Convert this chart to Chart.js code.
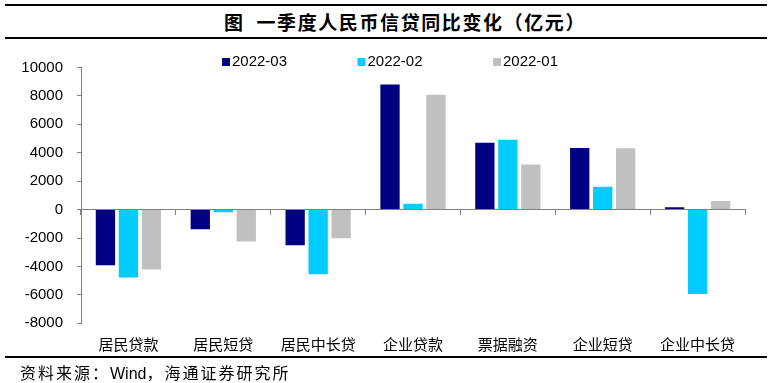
<!DOCTYPE html>
<html><head><meta charset="utf-8">
<script src="https://cdn.jsdelivr.net/npm/chart.js@4/dist/chart.umd.min.js"></script>
<style>
html,body{margin:0;padding:0;background:#fff;width:769px;height:383px;overflow:hidden;}
#wrap{position:relative;width:769px;height:383px;}
#c{position:absolute;left:0;top:0;}
.hr{position:absolute;left:5px;width:762px;background:#000;}
#title{position:absolute;top:10px;left:224px;white-space:nowrap;font:bold 19px "Noto Sans CJK SC",sans-serif;line-height:24px;letter-spacing:1.6px;color:#000;}
#src{position:absolute;top:361px;left:20px;white-space:nowrap;font:16px "Noto Sans CJK SC",sans-serif;line-height:22px;letter-spacing:2px;color:#000;}
#src .en{font-family:"Liberation Sans",Arial,sans-serif;letter-spacing:0;}
</style></head>
<body><div id="wrap">
<div class="hr" style="top:4px;height:2px"></div>
<div id="title">图&nbsp;&nbsp;一季度人民币信贷同比变化（亿元）</div>
<div class="hr" style="top:37px;height:2px"></div>
<canvas id="c" width="769" height="383"></canvas>
<div class="hr" style="top:356px;height:2px"></div>
<div id="src">资料来源：<span class="en">Wind</span>，海通证券研究所</div>
</div>
<script>
const categories = ['居民贷款','居民短贷','居民中长贷','企业贷款','票据融资','企业短贷','企业中长贷'];
const seriesNames = ['2022-03','2022-02','2022-01'];
const seriesMar = [-3920,-1390,-2510,8800,4700,4340,160];
const seriesFeb = [-4770,-190,-4550,420,4910,1600,-5940];
const seriesJan = [-4220,-2250,-2020,8080,3170,4320,610];
const seriesColors = ['#000080','#00CCFF','#C0C0C0'];
const yMin = -8000, yMax = 10000, yStep = 2000;

const legendPlugin = {
  id:'manualLegend',
  afterDraw(chart){
    const ctx = chart.ctx;
    ctx.save();
    ctx.font = '15px "Liberation Sans", Arial, sans-serif';
    ctx.textBaseline = 'middle';
    ctx.textAlign = 'left';
    chart.data.datasets.forEach((ds,i)=>{
      const x = 222 + i*135.5;
      ctx.fillStyle = ds.backgroundColor;
      ctx.fillRect(x, 58, 8, 8);
      ctx.fillStyle = '#000';
      ctx.fillText(ds.label, x+10, 62);
    });
    ctx.restore();
  }
};

const values = [seriesMar, seriesFeb, seriesJan];
new Chart(document.getElementById('c'), {
  type:'bar',
  data:{
    labels: categories,
    datasets: seriesNames.map((n,i)=>({
      label:n, data:values[i], backgroundColor:seriesColors[i], borderWidth:0,
      categoryPercentage:0.727, barPercentage:0.84
    }))
  },
  options:{
    responsive:false, animation:false,
    layout:{padding:{top:67.5,left:0,right:24,bottom:23.7}},
    plugins:{legend:{display:false},title:{display:false},tooltip:{enabled:false}},
    scales:{
      x:{
        type:'category', position:{y:0}, offset:true,
        grid:{offset:true, drawOnChartArea:false, tickLength:5, color:'#808080', lineWidth:1},
        border:{color:'#808080', width:1},
        ticks:{display:false}
      },
      x2:{
        type:'category', labels:categories, position:'bottom', offset:true,
        grid:{display:false, drawTicks:false}, border:{display:false},
        ticks:{color:'#000', font:{family:'"Noto Sans CJK SC", sans-serif', size:15}, padding:12, maxRotation:0, autoSkip:false},
        afterFit(s){ s.height = 36; }
      },
      y:{
        min:yMin, max:yMax,
        ticks:{stepSize:yStep, color:'#000', font:{family:'"Liberation Sans", Arial, sans-serif', size:15}, padding:14,
          callback:(v)=>String(v)},
        grid:{drawOnChartArea:false, tickLength:4, color:'#808080'},
        border:{color:'#808080', width:1},
        afterFit(s){ s.width = 81; }
      }
    }
  },
  plugins:[legendPlugin]
});
</script>
</body></html>
